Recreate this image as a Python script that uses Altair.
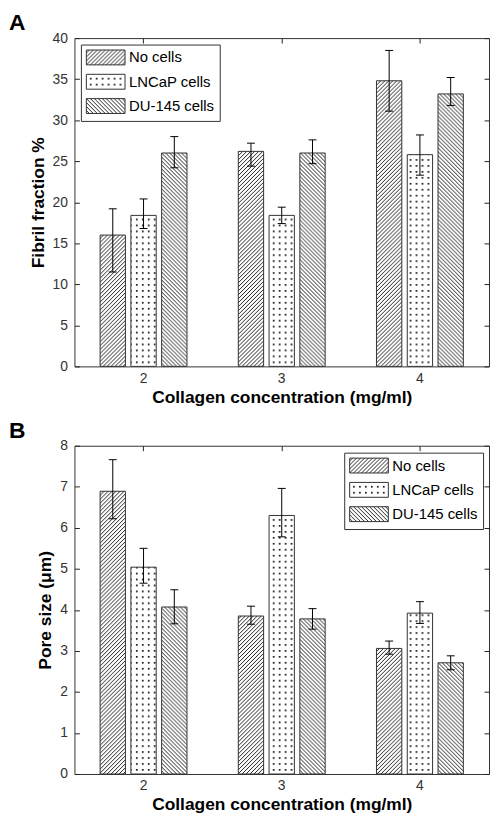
import altair as alt
import pandas as pd
import jinja2
from altair.utils import html as alt_html

# ---------------- data ----------------
conc = ["2", "3", "4"]
series = ["No cells", "LNCaP cells", "DU-145 cells"]

# Panel A: fibril fraction %
fib_no_mean = [16.0, 26.2, 34.8]
fib_no_lo = [11.5, 24.4, 31.1]
fib_no_hi = [19.2, 27.2, 38.5]
fib_ln_mean = [18.4, 18.4, 25.8]
fib_ln_lo = [16.8, 17.4, 23.3]
fib_ln_hi = [20.4, 19.4, 28.2]
fib_du_mean = [26.0, 26.0, 33.2]
fib_du_lo = [24.2, 24.7, 31.8]
fib_du_hi = [28.0, 27.6, 35.2]

# Panel B: pore size (um)
pore_no_mean = [6.89, 3.85, 3.06]
pore_no_lo = [6.22, 3.65, 2.92]
pore_no_hi = [7.66, 4.09, 3.24]
pore_ln_mean = [5.04, 6.30, 3.92]
pore_ln_lo = [4.65, 5.78, 3.67]
pore_ln_hi = [5.50, 6.96, 4.20]
pore_du_mean = [4.07, 3.78, 2.71]
pore_du_lo = [3.66, 3.53, 2.54]
pore_du_hi = [4.49, 4.03, 2.88]

fib_ticks = [0, 5, 10, 15, 20, 25, 30, 35, 40]
pore_ticks = [0, 1, 2, 3, 4, 5, 6, 7, 8]


def build(groups):
    rows = []
    for name, (m, lo, hi) in zip(series, groups):
        for c, a, b, d in zip(conc, m, lo, hi):
            rows.append({"conc": c, "series": name, "mean": a, "lo": b, "hi": d})
    return pd.DataFrame(rows)


df_a = build([(fib_no_mean, fib_no_lo, fib_no_hi),
              (fib_ln_mean, fib_ln_lo, fib_ln_hi),
              (fib_du_mean, fib_du_lo, fib_du_hi)])
df_b = build([(pore_no_mean, pore_no_lo, pore_no_hi),
              (pore_ln_mean, pore_ln_lo, pore_ln_hi),
              (pore_du_mean, pore_du_lo, pore_du_hi)])

# ---------------- styling ----------------
W, H = 418, 331
FONT = "Liberation Sans"
patterns = ["url(#pNo)", "url(#pLN)", "url(#pDU)"]


def panel(df, ymax, ticks, ytitle, letter, lx, ly):
    yscale = alt.Scale(domain=[0, ymax], nice=False, zero=True)
    yaxis = alt.Axis(values=ticks, grid=True, gridDash=[5, W - 10], gridColor="#222",
                     gridOpacity=1, ticks=False, tickSize=0, domain=False,
                     labelFontSize=14, labelFont=FONT, labelColor="#333", labelPadding=7,
                     titleFontSize=17.5, titleFont=FONT, titleFontWeight="bold",
                     titleColor="black", titlePadding=5)
    base = alt.Chart(df).encode(
        x=alt.X("conc:N", sort=conc, title="Collagen concentration (mg/ml)",
                scale=alt.Scale(paddingInner=0, paddingOuter=0),
                axis=alt.Axis(labelAngle=0, grid=True, gridDash=[5, H - 10], gridColor="#222",
                              gridOpacity=1, ticks=False, tickSize=0, domain=False,
                              labelFontSize=14, labelFont=FONT, labelColor="#333",
                              labelPadding=5, titleFontSize=17.5, titleFont=FONT,
                              titleFontWeight="bold", titleColor="black", titlePadding=3)),
        xOffset=alt.XOffset("series:N", sort=series,
                            scale=alt.Scale(paddingInner=0.177, paddingOuter=0.834)),
    )
    bars = base.mark_bar(stroke="#333", strokeWidth=1, opacity=1).encode(
        y=alt.Y("mean:Q", scale=yscale, axis=yaxis, title=ytitle),
        fill=alt.Fill("series:N", sort=series,
                      scale=alt.Scale(domain=series, range=patterns),
                      legend=alt.Legend(title=None, orient="none", legendX=lx, legendY=ly,
                                        symbolType="M-1,-1H4.2V1H-1Z", symbolSize=225,
                                        symbolStrokeColor="#333", symbolStrokeWidth=1,
                                        symbolOpacity=1,
                                        labelFontSize=15, labelFont=FONT, labelColor="black",
                                        labelOffset=27.5, rowPadding=4.5, padding=5,
                                        strokeColor="#333", fillColor="white")),
    )
    rule = base.mark_rule(color="black", strokeWidth=1).encode(
        y=alt.Y("lo:Q", scale=yscale, axis=yaxis, title=ytitle), y2="hi:Q")
    cap_lo = base.mark_tick(color="black", size=8, thickness=1, opacity=1).encode(
        y=alt.Y("lo:Q", scale=yscale, axis=yaxis, title=ytitle))
    cap_hi = base.mark_tick(color="black", size=8, thickness=1, opacity=1).encode(
        y=alt.Y("hi:Q", scale=yscale, axis=yaxis, title=ytitle))
    return alt.layer(bars, rule, cap_lo, cap_hi).properties(
        width=W, height=H,
        title=alt.TitleParams(letter, anchor="start", frame="group", dx=-66, offset=-22,
                              baseline="alphabetic", fontSize=23, font=FONT,
                              fontWeight="bold", color="black"))


pa = panel(df_a, 40, fib_ticks, "Fibril fraction %", "A", 6.5, 6.5)
pb = panel(df_b, 8, pore_ticks, "Pore size (\u03bcm)", "B", 272, 7)

chart = alt.vconcat(pa, pb, spacing=13).resolve_legend(fill="independent").properties(
    padding={"left": 0, "top": 0, "right": 0, "bottom": 0}
).configure_view(stroke="#333", strokeWidth=1)

# SVG pattern definitions (hatching / dots) referenced by the fill scale
DEFS = """
<svg width="0" height="0" style="position:absolute;left:0;top:0" aria-hidden="true">
 <defs>
  <pattern id="pNo" patternUnits="userSpaceOnUse" width="4" height="4">
   <rect width="4" height="4" fill="white"/>
   <path d="M-1,1 L1,-1 M0,4 L4,0 M3,5 L5,3" stroke="#222" stroke-width="1"/>
  </pattern>
  <pattern id="pDU" patternUnits="userSpaceOnUse" width="4" height="4">
   <rect width="4" height="4" fill="white"/>
   <path d="M-1,3 L1,5 M0,0 L4,4 M3,-1 L5,1" stroke="#222" stroke-width="1"/>
  </pattern>
  <pattern id="pLN" patternUnits="userSpaceOnUse" width="6" height="6">
   <rect width="6" height="6" fill="white"/>
   <rect x="2" y="2" width="1.7" height="1.7" fill="#111"/>
  </pattern>
 </defs>
</svg>
"""

BASE_TEMPLATE = alt_html.TEMPLATES["standard"]


class PatternTemplate(jinja2.Template):
    def render(self, *args, **kwargs):
        page = BASE_TEMPLATE.render(*args, **kwargs)
        if "<body>" in page:
            return page.replace("<body>", "<body>" + DEFS, 1)
        return DEFS + page


chart.save("out.html", embed_options={"renderer": "svg", "actions": False},
           template=PatternTemplate(""))
